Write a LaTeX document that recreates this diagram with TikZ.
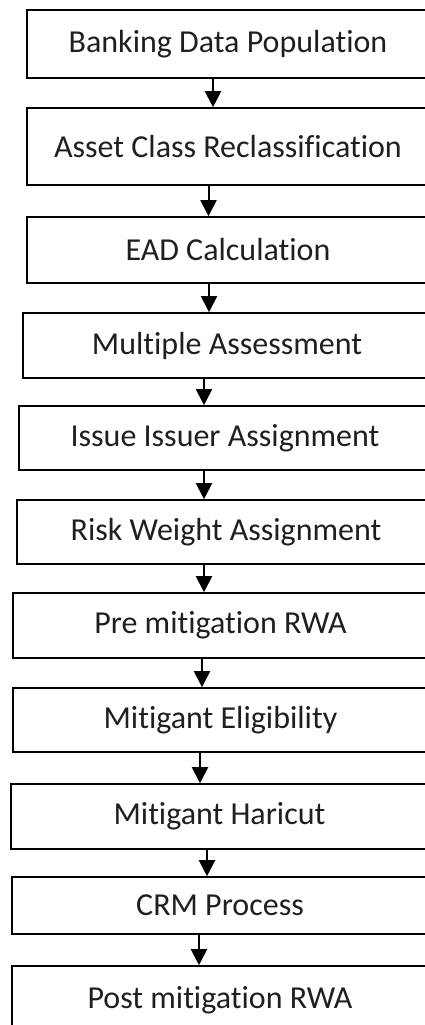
\documentclass[tikz,border=0pt]{standalone}
\usepackage{fontspec}
\setmainfont{Carlito}[Ligatures={NoCommon}]
\usetikzlibrary{arrows.meta}
\tikzset{
  box/.style={draw=black, line width=1.6pt, rectangle, inner sep=0pt,
    font=\fontsize{32}{38}\selectfont, text=black!88},
  flow/.style={line width=2pt, -{Triangle[width=16pt,length=16pt]}}
}
\begin{document}
\begin{tikzpicture}[x=1pt,y=-1pt]
\useasboundingbox (0,0) rectangle (425,1025);
\clip (0,0) rectangle (425,1025);
\node[box, minimum width=402pt, minimum height=68pt] (b1) at (228,44) {Banking Data Population};
\node[box, minimum width=402pt, minimum height=77pt] (b2) at (228,146.5) {Asset Class Reclassification};
\node[box, minimum width=402pt, minimum height=66pt] (b3) at (228,250) {EAD Calculation};
\node[box, minimum width=408pt, minimum height=65pt] (b4) at (227,345.5) {Multiple Assessment};
\node[box, minimum width=412pt, minimum height=64pt] (b5) at (225,438) {Issue Issuer Assignment};
\node[box, minimum width=418pt, minimum height=64pt] (b6) at (226,532) {Risk Weight Assignment};
\node[box, minimum width=415pt, minimum height=65pt] (b7) at (220.5,625.5) {Pre mitigation RWA};
\node[box, minimum width=415pt, minimum height=64pt] (b8) at (220.5,720) {Mitigant Eligibility};
\node[box, minimum width=417pt, minimum height=65pt] (b9) at (219.5,816.5) {Mitigant Haricut};
\node[box, minimum width=416pt, minimum height=57pt] (b10) at (220,905.5) {CRM Process};
\node[box, minimum width=416pt, minimum height=68pt] (b11) at (220,1000) {Post mitigation RWA};
\coordinate (x1) at (213,0);
\coordinate (x2) at (208.5,0);
\coordinate (x3) at (209,0);
\coordinate (x4) at (204,0);
\coordinate (x5) at (204,0);
\coordinate (x6) at (204,0);
\coordinate (x7) at (202,0);
\coordinate (x8) at (200,0);
\coordinate (x9) at (207,0);
\coordinate (x10) at (199,0);
\draw[flow] (b1.south -| x1) -- (b2.north -| x1);
\draw[flow] (b2.south -| x2) -- (b3.north -| x2);
\draw[flow] (b3.south -| x3) -- (b4.north -| x3);
\draw[flow] (b4.south -| x4) -- (b5.north -| x4);
\draw[flow] (b5.south -| x5) -- (b6.north -| x5);
\draw[flow] (b6.south -| x6) -- (b7.north -| x6);
\draw[flow] (b7.south -| x7) -- (b8.north -| x7);
\draw[flow] (b8.south -| x8) -- (b9.north -| x8);
\draw[flow] (b9.south -| x9) -- (b10.north -| x9);
\draw[flow] (b10.south -| x10) -- (b11.north -| x10);
\end{tikzpicture}
\end{document}
